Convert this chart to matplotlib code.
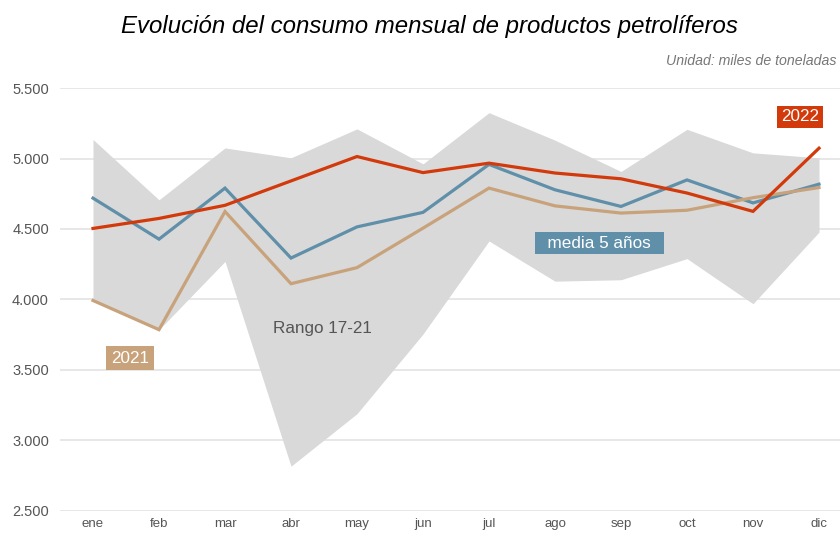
import matplotlib
matplotlib.use('Agg')
import matplotlib.pyplot as plt
from matplotlib import font_manager
from matplotlib.ticker import FuncFormatter

plt.rcParams['font.family'] = 'sans-serif'
plt.rcParams['font.sans-serif'] = ['Liberation Sans', 'DejaVu Sans']

installed = {f.name for f in font_manager.fontManager.ttflist}
narrow = 'Liberation Sans Narrow' if 'Liberation Sans Narrow' in installed else 'Liberation Sans'

# Data (miles de toneladas)
months = ['ene', 'feb', 'mar', 'abr', 'may', 'jun',
          'jul', 'ago', 'sep', 'oct', 'nov', 'dic']
range_max = [5135, 4707, 5075, 5005, 5210, 4962, 5325, 5130, 4908, 5207, 5040, 5005]
range_min = [3995, 3786, 4270, 2818, 3190, 3755, 4415, 4130, 4140, 4290, 3970, 4478]
media_5 = [4719, 4428, 4790, 4294, 4515, 4618, 4958, 4778, 4660, 4848, 4685, 4818]
y2021 = [3993, 3786, 4624, 4112, 4226, 4506, 4790, 4664, 4613, 4633, 4722, 4794]
y2022 = [4504, 4575, 4668, 4841, 5014, 4900, 4967, 4897, 4856, 4755, 4625, 5073]
yticks = [2500, 3000, 3500, 4000, 4500, 5000, 5500]

# Colors
red = '#d23a0b'
blue = '#5f8fa9'
tan = '#c8a27b'
band = '#d9d9d9'
grid = '#e3e3e3'
txt = '#555555'

fig = plt.figure(figsize=(8.4, 5.33), dpi=100)
ax = fig.add_axes([60 / 840, 1 - 511 / 533, 780 / 840, 423 / 533])

x = list(range(len(months)))
ax.fill_between(x, range_min, range_max, color=band, linewidth=0, zorder=2)
ax.plot(x, media_5, color=blue, linewidth=2.3, zorder=3, solid_joinstyle='miter')
ax.plot(x, y2021, color=tan, linewidth=2.3, zorder=4, solid_joinstyle='miter')
ax.plot(x, y2022, color=red, linewidth=2.3, zorder=5, solid_joinstyle='miter')

ax.set_xlim(-0.5, 11 + 21 / 66)
ax.set_ylim(2500, 5500)
ax.set_yticks(yticks)
ax.yaxis.set_major_formatter(FuncFormatter(lambda v, p: f'{int(v):,}'.replace(',', '.')))
ax.set_xticks(x)
ax.set_xticklabels(months, fontfamily=narrow)
ax.grid(axis='y', color=grid, linewidth=1.2, zorder=1)
ax.set_axisbelow(True)
for s in ax.spines.values():
    s.set_visible(False)
ax.tick_params(axis='y', length=0, pad=8, labelsize=10.5, labelcolor=txt)
ax.tick_params(axis='x', length=0, pad=5, labelsize=9.5, labelcolor=txt)

# Series labels
lab = 12.3
ax.text(11 - 19 / 66, 5295, '2022', ha='center', va='center', fontsize=lab,
        color='white', zorder=6,
        bbox=dict(boxstyle='square,pad=0.22', fc=red, ec='none'))
ax.text(7.67, 4400, '  media 5 años  ', ha='center', va='center', fontsize=lab,
        color='white', zorder=6,
        bbox=dict(boxstyle='square,pad=0.2', fc=blue, ec='none'))
ax.text(0.56, 3585, '2021', ha='center', va='center', fontsize=lab,
        color='white', zorder=6,
        bbox=dict(boxstyle='square,pad=0.28', fc=tan, ec='none'))
ax.text(3.47, 3795, 'Rango 17-21', ha='center', va='center', fontsize=lab,
        color=txt, zorder=6)

# Title and unit
fig.text(121 / 840, 1 - 26 / 533, 'Evolución del consumo mensual de productos petrolíferos',
         ha='left', va='center', fontsize=17.3, style='italic', color='black')
fig.text(837 / 840, 1 - 61 / 533, 'Unidad: miles de toneladas', ha='right', va='center',
         fontsize=10.2, style='italic', color='#777777')

fig.savefig('out.png', dpi=100)
